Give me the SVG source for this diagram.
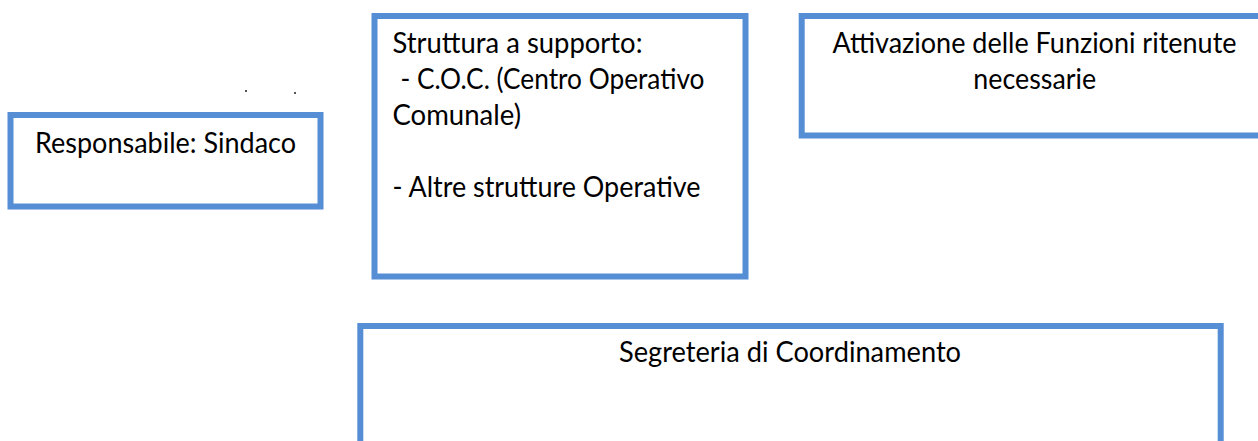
<svg xmlns="http://www.w3.org/2000/svg" width="1258" height="441" viewBox="0 0 1258 441">
  <style>
    .box { fill: #ffffff; stroke: #558ED5; stroke-width: 6; }
    .t { font-family: Lato, "Liberation Sans", sans-serif; font-size: 28px; fill: #000000; }
    .m { text-anchor: middle; }
  </style>
  <rect x="0" y="0" width="1258" height="441" fill="#ffffff"/>
  <g id="marks">
    <rect x="245" y="90" width="2" height="2" fill="#555555"/>
    <rect x="294" y="92" width="2" height="2" fill="#555555"/>
  </g>
  <g id="connectors"></g>
  <g id="node-responsabile">
    <rect class="box" x="10.5" y="115" width="310" height="91.5"/>
    <text class="t m" x="165.5" y="153.3" textLength="261" lengthAdjust="spacingAndGlyphs">Responsabile: Sindaco</text>
  </g>
  <g id="node-struttura">
    <rect class="box" x="374.5" y="16" width="371" height="260.5"/>
    <text class="t" x="392.5" y="53.3" textLength="250" lengthAdjust="spacingAndGlyphs">Struttura a supporto:</text>
    <text class="t" x="400.5" y="89.3" textLength="304" lengthAdjust="spacingAndGlyphs">- C.O.C. (Centro Operativo</text>
    <text class="t" x="392.5" y="125" textLength="128.5" lengthAdjust="spacingAndGlyphs">Comunale)</text>
    <text class="t" x="392.5" y="196.7" textLength="308" lengthAdjust="spacingAndGlyphs">- Altre strutture Operative</text>
  </g>
  <g id="node-attivazione">
    <rect class="box" x="801.7" y="16" width="470" height="119.5"/>
    <text class="t m" x="1034.5" y="53.3" textLength="404" lengthAdjust="spacingAndGlyphs">Attivazione delle Funzioni ritenute</text>
    <text class="t m" x="1034.7" y="89.3" textLength="122.7" lengthAdjust="spacingAndGlyphs">necessarie</text>
  </g>
  <g id="node-segreteria">
    <rect class="box" x="360.3" y="326" width="860.4" height="140"/>
    <text class="t m" x="790" y="361.7" textLength="342" lengthAdjust="spacingAndGlyphs">Segreteria di Coordinamento</text>
  </g>
</svg>
